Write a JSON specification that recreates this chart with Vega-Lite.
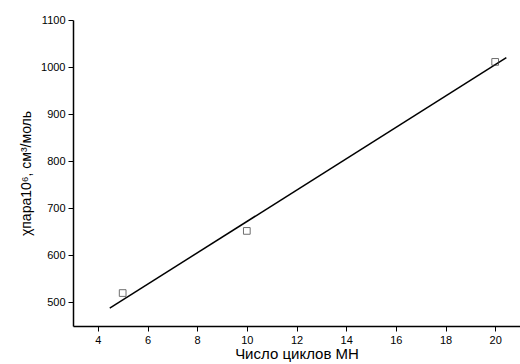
{
  "$schema": "https://vega.github.io/schema/vega-lite/v6.json",
  "autosize": {"type": "fit", "contains": "padding"},
  "width": 520,
  "height": 364,
  "padding": {"left": 19, "top": 14, "right": 0, "bottom": 3},
  "background": "white",
  "config": {
    "view": {"stroke": null},
    "font": "Liberation Sans",
    "axis": {"grid": false, "domain": true, "ticks": true, "domainColor": "black", "domainWidth": 1.5, "domainOpacity": 1, "tickColor": "black", "tickOpacity": 1, "tickWidth": 1, "labelColor": "black", "titleColor": "black", "labelFont": "Liberation Sans", "titleFont": "Liberation Sans", "titleFontWeight": "normal", "labelFontSize": 11}
  },
  "datasets": {
    "points": [
      {"cycles": 5, "chi": 520},
      {"cycles": 10, "chi": 652},
      {"cycles": 20, "chi": 1011}
    ],
    "fit": [
      {"cycles": 4.48, "chi": 488},
      {"cycles": 20.45, "chi": 1020}
    ]
  },
  "layer": [
    {
      "data": {"name": "fit"},
      "mark": {"type": "line", "color": "black", "strokeWidth": 1.5},
      "encoding": {
        "x": {"field": "cycles", "type": "quantitative", "scale": {"domain": [3, 21], "nice": false, "zero": false},
          "axis": {"orient": "bottom", "values": [4, 6, 8, 10, 12, 14, 16, 18, 20], "format": "d",
            "tickSize": 5, "labelFlush": false,
            "labelPadding": 3, "title": "Число циклов МН", "titleFontSize": 15, "titlePadding": 1}},
        "y": {"field": "chi", "type": "quantitative", "scale": {"domain": [450, 1100], "nice": false, "zero": false},
          "axis": {"orient": "left", "values": [500, 600, 700, 800, 900, 1000, 1100], "format": "d",
            "tickSize": 5, "labelFlush": false,
            "labelPadding": 3, "title": "χпара10⁶, см³/моль", "titleFontSize": 14, "titlePadding": 7}}
      }
    },
    {
      "data": {"name": "points"},
      "mark": {"type": "point", "shape": "square", "filled": false, "color": "#333333", "strokeWidth": 1, "size": 45},
      "encoding": {
        "x": {"field": "cycles", "type": "quantitative"},
        "y": {"field": "chi", "type": "quantitative"}
      }
    }
  ]
}
